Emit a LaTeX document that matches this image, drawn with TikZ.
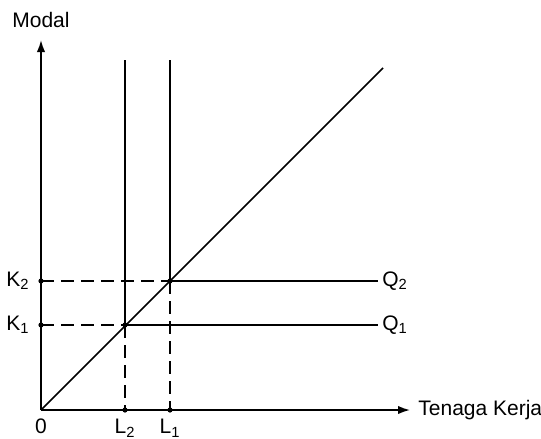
\documentclass[tikz,border=0pt]{standalone}
\usepackage{fontspec}
\setmainfont{Liberation Sans}
\usetikzlibrary{arrows.meta,positioning}

\begin{document}
\begin{tikzpicture}[
    x=0.5pt, y=-0.5pt,
    node distance=2pt,
    axis/.style={line width=0.85pt, -{Latex[length=6pt,width=4.2pt]}},
    solidline/.style={line width=0.85pt},
    guide/.style={line width=0.85pt, dash pattern=on 6.5pt off 3.5pt},
    lbl/.style={font=\fontsize{10.5}{12}\selectfont, inner sep=1pt},
    dot/.style={circle, fill, inner sep=0pt, minimum size=2.6pt}
]
    \useasboundingbox (0,0) rectangle (541,439);

    % axes
    \coordinate (o) at (41,410);
    \coordinate (ytop) at (41,40);
    \coordinate (xend) at (410,410);
    \draw[axis] (o) -- (ytop);
    \draw[axis] (o) -- (xend);
    \node[lbl, above=5pt of ytop] (modal) {Modal};
    \node[lbl, right=3pt of xend] (tk) {Tenaga Kerja};
    \node[lbl, below=3pt of o] (zero) {0};

    % points
    \node[dot] (k1) at (41,325) {};
    \node[dot] (k2) at (41,281) {};
    \node[dot] (l2) at (125,410) {};
    \node[dot] (l1) at (170,410) {};
    \node[dot] (e1) at (125,325) {};
    \node[dot] (e2) at (170,281) {};
    \coordinate (l2top) at (125,60);
    \coordinate (l1top) at (170,60);
    \coordinate (q1end) at (378,325);
    \coordinate (q2end) at (378,281);
    \coordinate (dend) at (383,68);

    % 45 degree line
    \draw[solidline] (o) -- (dend);

    % L lines
    \draw[solidline] (l2top) -- (e1.center);
    \draw[guide] (e1.center) -- (l2.center);
    \draw[solidline] (l1top) -- (e2.center);
    \draw[guide] (e2.center) -- (l1.center);

    % K lines
    \draw[guide] (k1.center) -- (e1.center);
    \draw[solidline] (e1.center) -- (q1end);
    \draw[guide] (k2.center) -- (e2.center);
    \draw[solidline] (e2.center) -- (q2end);

    % labels
    \node[lbl, left=3pt of k1] (k1lbl) {K\textsubscript{1}};
    \node[lbl, left=3pt of k2] (k2lbl) {K\textsubscript{2}};
    \node[lbl, below=2pt of l2] (l2lbl) {L\textsubscript{2}};
    \node[lbl, below=2pt of l1] (l1lbl) {L\textsubscript{1}};
    \node[lbl, right=1pt of q1end] (q1lbl) {Q\textsubscript{1}};
    \node[lbl, right=1pt of q2end] (q2lbl) {Q\textsubscript{2}};
\end{tikzpicture}
\end{document}
